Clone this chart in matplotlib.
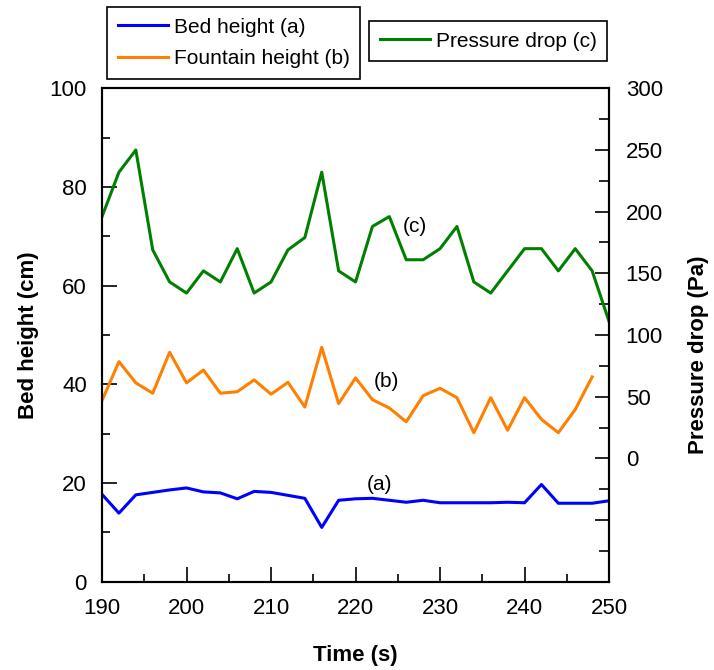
import matplotlib.pyplot as plt
from matplotlib.ticker import MultipleLocator, FuncFormatter
import numpy as np

plt.rcParams['font.family'] = ['Liberation Sans', 'DejaVu Sans']

# time (s), samples every 2 s
time = np.arange(190, 251, 2)
time_b = np.arange(190, 249, 2)

bed_height = [17.7, 13.9, 17.6, 18.1, 18.6, 19.0, 18.2, 18.0, 16.8, 18.3,
              18.1, 17.5, 16.9, 11.0, 16.5, 16.8, 16.9, 16.5, 16.1, 16.5,
              16.0, 16.0, 16.0, 16.0, 16.1, 16.0, 19.7, 15.9, 15.9, 15.9, 16.4]
fountain_height = [36.7, 44.6, 40.3, 38.2, 46.5, 40.3, 42.9, 38.2, 38.5, 40.9,
                   38.0, 40.4, 35.4, 47.5, 36.1, 41.3, 36.9, 35.2, 32.4, 37.7,
                   39.2, 37.3, 30.2, 37.3, 30.7, 37.3, 32.9, 30.2, 34.9, 41.5]
pressure_drop = [196, 232, 250, 169, 143, 134, 152, 143, 170, 134,
                 143, 169, 179, 232, 152, 143, 188, 196, 161, 161,
                 170, 188, 143, 134, 152, 170, 170, 152, 170, 152, 111]

fig = plt.figure(figsize=(7.14, 6.70), dpi=100)
ax = fig.add_axes([0.1429, 0.1318, 0.7101, 0.7364])
ax2 = ax.twinx()

l1, = ax.plot(time, bed_height, color='#0000ff', lw=2.2)
l2, = ax.plot(time_b, fountain_height, color='#ff7f00', lw=2.2)
l3, = ax2.plot(time, pressure_drop, color='#008000', lw=2.2)

ax.set_xlim(190, 250)
ax.set_ylim(0, 100)
ax2.set_ylim(-100, 300)

ax.xaxis.set_major_locator(MultipleLocator(10))
ax.xaxis.set_minor_locator(MultipleLocator(5))
ax.yaxis.set_major_locator(MultipleLocator(20))
ax.yaxis.set_minor_locator(MultipleLocator(10))
ax2.yaxis.set_major_locator(MultipleLocator(50))
ax2.yaxis.set_minor_locator(MultipleLocator(25))
ax2.yaxis.set_major_formatter(FuncFormatter(lambda v, p: '%d' % v if v >= 0 else ''))

ax.tick_params(which='major', direction='in', length=11, width=1.2, labelsize=16, pad=11)
ax.tick_params(axis='x', pad=12)
ax.tick_params(which='minor', direction='in', length=6, width=1.2)
ax.tick_params(axis='y', right=False)
ax2.tick_params(which='major', direction='in', length=10, width=1.2, labelsize=16, pad=12)
ax2.tick_params(which='minor', direction='in', length=7, width=1.2)

for a in (ax, ax2):
    for s in a.spines.values():
        s.set_linewidth(1.5)

ax.set_xlabel('Time (s)', fontsize=16, fontweight='bold', va='center')
ax.set_ylabel('Bed height (cm)', fontsize=16, fontweight='bold', va='center')
ax2.set_ylabel('Pressure drop (Pa)', fontsize=16, fontweight='bold', va='center')
ax.xaxis.set_label_coords(0.5, -0.1486)
ax.yaxis.set_label_coords(-0.146, 0.5)
ax2.yaxis.set_label_coords(1.1755, 0.459)

# curve labels
ax.text(227.0, 72.0, '(c)', fontsize=15, ha='center', va='center')
ax.text(223.7, 40.5, '(b)', fontsize=15, ha='center', va='center')
ax.text(222.8, 19.8, '(a)', fontsize=15, ha='center', va='center')

leg1 = fig.legend([l1, l2], ['Bed height (a)', 'Fountain height (b)'],
                  loc='center', bbox_to_anchor=(0.3277, 0.9358), fontsize=15,
                  handlelength=2.4, handletextpad=0.3, labelspacing=0.6,
                  borderpad=0.5, fancybox=False, framealpha=1, edgecolor='black')
leg1.get_frame().set_linewidth(1.2)
leg2 = fig.legend([l3], ['Pressure drop (c)'],
                  loc='center', bbox_to_anchor=(0.684, 0.9388), fontsize=15,
                  handlelength=2.4, handletextpad=0.3,
                  borderpad=0.5, fancybox=False, framealpha=1, edgecolor='black')
leg2.get_frame().set_linewidth(1.2)

plt.savefig('out.png', dpi=100)
